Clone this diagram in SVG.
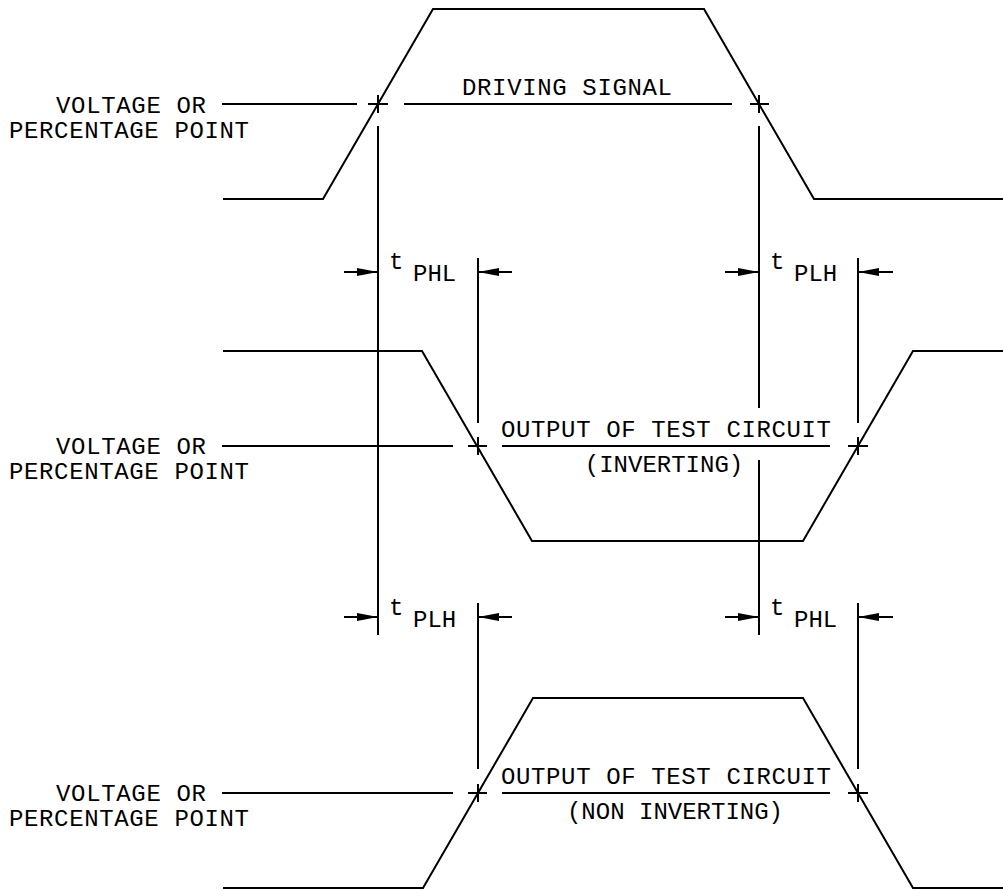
<svg xmlns="http://www.w3.org/2000/svg" width="1003" height="890" viewBox="0 0 1003 890">
<style>
.ln{fill:none;stroke:#000;stroke-width:2;stroke-linejoin:miter}
.tx{font-family:"Liberation Mono","DejaVu Sans Mono",monospace;font-size:24px;fill:#000}
</style>
<defs>
<marker id="ah" markerUnits="userSpaceOnUse" markerWidth="22" markerHeight="10" refX="21" refY="5" orient="auto">
<path d="M0,1 L21,5 L0,9 z" fill="#000"/>
</marker>
</defs>
<rect width="1003" height="890" fill="#fff"/>

<g id="driving-signal">
<polyline class="ln" points="223,199 323,199 433,9 704,9 814,199 1003,199"/>
<line class="ln" x1="222" y1="104" x2="357" y2="104"/>
<line class="ln" x1="404" y1="104" x2="732" y2="104"/>
<path class="ln" d="M368,104 H388 M378,95 V113 M750,104 H769 M759,95 V113"/>
<text class="tx" x="56" y="113" textLength="150" lengthAdjust="spacing">VOLTAGE OR</text>
<text class="tx" x="9" y="138" textLength="240" lengthAdjust="spacing">PERCENTAGE POINT</text>
<text class="tx" x="462" y="95" textLength="210" lengthAdjust="spacing">DRIVING SIGNAL</text>
</g>

<g id="inverting-output">
<polyline class="ln" points="223,351 422,351 532,541 803,541 913,351 1003,351"/>
<line class="ln" x1="222" y1="446" x2="453" y2="446"/>
<line class="ln" x1="502" y1="446" x2="830" y2="446"/>
<path class="ln" d="M468,446 H487 M478,437 V455 M848,446 H868 M858,437 V455"/>
<text class="tx" x="56" y="454" textLength="150" lengthAdjust="spacing">VOLTAGE OR</text>
<text class="tx" x="9" y="479" textLength="240" lengthAdjust="spacing">PERCENTAGE POINT</text>
<text class="tx" x="501" y="437" textLength="330" lengthAdjust="spacing">OUTPUT OF TEST CIRCUIT</text>
<text class="tx" x="664" y="472" text-anchor="middle">(INVERTING)</text>
</g>

<g id="noninverting-output">
<polyline class="ln" points="223,888 423,888 533,698 803,698 913,888 1003,888"/>
<line class="ln" x1="222" y1="793" x2="453" y2="793"/>
<line class="ln" x1="502" y1="793" x2="830" y2="793"/>
<path class="ln" d="M468,793 H487 M478,784 V802 M848,793 H868 M858,784 V802"/>
<text class="tx" x="56" y="801" textLength="150" lengthAdjust="spacing">VOLTAGE OR</text>
<text class="tx" x="9" y="826" textLength="240" lengthAdjust="spacing">PERCENTAGE POINT</text>
<text class="tx" x="501" y="784" textLength="330" lengthAdjust="spacing">OUTPUT OF TEST CIRCUIT</text>
<text class="tx" x="675" y="819" text-anchor="middle">(NON INVERTING)</text>
</g>

<g id="connectors">
<line class="ln" x1="378" y1="126" x2="378" y2="635"/>
<line class="ln" x1="759" y1="126" x2="759" y2="408"/>
<line class="ln" x1="759" y1="460" x2="759" y2="635"/>
<line class="ln" x1="478" y1="258" x2="478" y2="423"/>
<line class="ln" x1="858" y1="258" x2="858" y2="423"/>
<line class="ln" x1="478" y1="603" x2="478" y2="769"/>
<line class="ln" x1="858" y1="603" x2="858" y2="769"/>
<line class="ln" x1="344" y1="272" x2="378" y2="272" marker-end="url(#ah)"/>
<line class="ln" x1="512" y1="272" x2="478" y2="272" marker-end="url(#ah)"/>
<line class="ln" x1="725" y1="272" x2="759" y2="272" marker-end="url(#ah)"/>
<line class="ln" x1="893" y1="272" x2="858" y2="272" marker-end="url(#ah)"/>
<line class="ln" x1="344" y1="617" x2="378" y2="617" marker-end="url(#ah)"/>
<line class="ln" x1="512" y1="617" x2="478" y2="617" marker-end="url(#ah)"/>
<line class="ln" x1="725" y1="617" x2="759" y2="617" marker-end="url(#ah)"/>
<line class="ln" x1="893" y1="617" x2="858" y2="617" marker-end="url(#ah)"/>
</g>

<g id="timing-labels">
<text class="tx" x="389" y="269">t</text><text class="tx" x="413" y="281">PHL</text>
<text class="tx" x="770" y="269">t</text><text class="tx" x="794" y="281">PLH</text>
<text class="tx" x="389" y="615">t</text><text class="tx" x="413" y="627">PLH</text>
<text class="tx" x="770" y="615">t</text><text class="tx" x="794" y="627">PHL</text>
</g>
</svg>
